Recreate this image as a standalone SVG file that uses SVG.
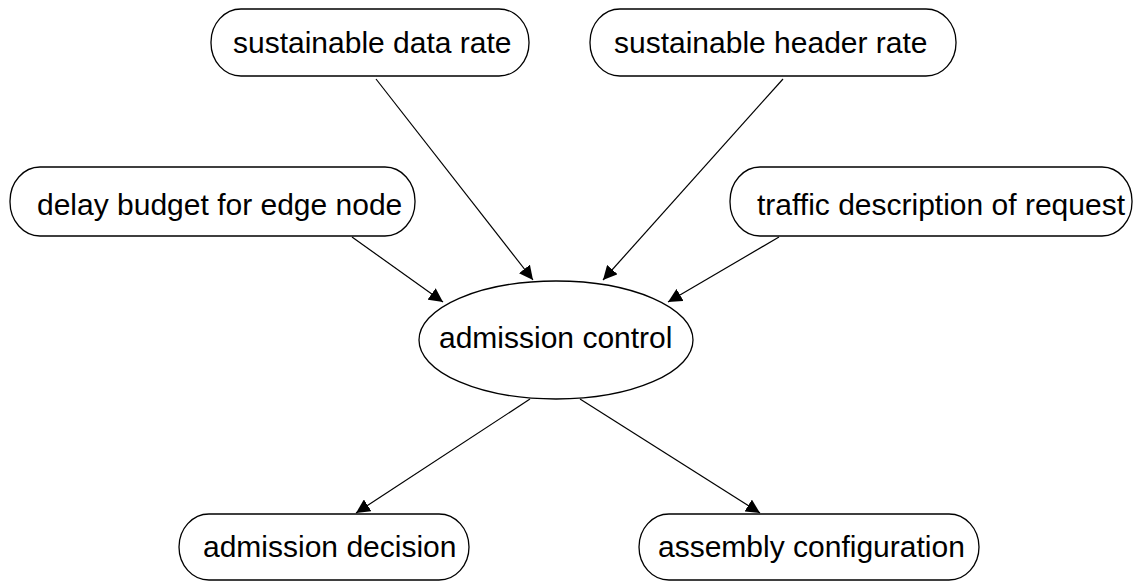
<svg xmlns="http://www.w3.org/2000/svg" width="1137" height="581" viewBox="0 0 1137 581">
<style>
.n{fill:#fff;stroke:#000;stroke-width:1.3}
.t{font-family:"Liberation Sans",Arial,sans-serif;font-size:30px;fill:#000}
.e{stroke:#000;stroke-width:1.2;fill:none;marker-end:url(#ah)}
</style>
<defs>
<marker id="ah" viewBox="0 0 10 10" refX="10" refY="5" markerWidth="14" markerHeight="14" markerUnits="userSpaceOnUse" orient="auto">
<path d="M0,0 L10,5 L0,10 z" fill="#000"/>
</marker>
</defs>
<rect width="1137" height="581" fill="#fff"/>
<g id="connectors">
<line class="e" x1="376" y1="79" x2="533" y2="280"/>
<line class="e" x1="783" y1="79" x2="603" y2="280"/>
<line class="e" x1="352" y1="237" x2="443" y2="302"/>
<line class="e" x1="779" y1="237" x2="668" y2="302"/>
<line class="e" x1="530" y1="399" x2="356" y2="513"/>
<line class="e" x1="580" y1="399" x2="760" y2="513"/>
</g>
<g id="n_sdr"><rect class="n" x="211" y="9" width="318" height="67" rx="30" ry="33"/><text class="t" x="233" y="53">sustainable data rate</text></g>
<g id="n_shr"><rect class="n" x="590" y="9" width="366" height="67" rx="30" ry="33"/><text class="t" x="614" y="53">sustainable header rate</text></g>
<g id="n_dbe"><rect class="n" x="10" y="167" width="405" height="69" rx="30" ry="34"/><text class="t" x="37" y="215">delay budget for edge node</text></g>
<g id="n_tdr"><rect class="n" x="730" y="167" width="402" height="69" rx="30" ry="34"/><text class="t" x="757" y="215">traffic description of request</text></g>
<g id="n_ac"><ellipse class="n" cx="556" cy="340" rx="137" ry="59"/><text class="t" x="439" y="348">admission control</text></g>
<g id="n_ad"><rect class="n" x="179" y="514" width="290" height="66" rx="30" ry="33"/><text class="t" x="203" y="557">admission decision</text></g>
<g id="n_asc"><rect class="n" x="639" y="514" width="340" height="66" rx="30" ry="33"/><text class="t" x="658" y="557">assembly configuration</text></g>
</svg>
